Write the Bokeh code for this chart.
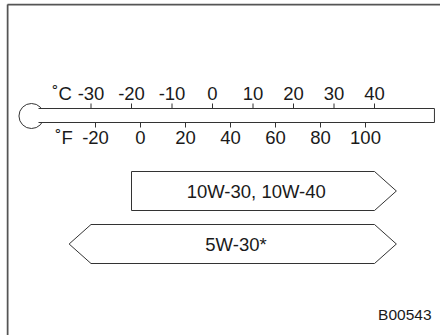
from bokeh.plotting import figure
from bokeh.models import Range1d
from bokeh.core.properties import value
from bokeh.embed import file_html
from bokeh.resources import INLINE

# ---------------- data ----------------
celsius_ticks = [-30, -20, -10, 0, 10, 20, 30, 40]
fahrenheit_ticks = [-20, 0, 20, 40, 60, 80, 100]
oil_grades = ["10W-30, 10W-40", "5W-30*"]
oil_low_c = [-20, -30]
oil_high_c = [40, 40]
oil_open_low = [False, True]
oil_open_high = [True, True]
figure_code = "B00543"
tube_start_c = -42
tube_end_c = 54.8
bulb_c = -44.7

# ---------------- layout (page pixels) ----------------
X0 = 212.0      # page x of 0 degC
K = 4.05        # px per degC
FIG_X, FIG_Y = 6, 3
W, H = 434, 332
FONT = value("Liberation Sans")
LINE = "#333333"
TXT = "#1a1a1a"
FS = "18.5px"


def px2c(px):
    return (px - X0) / K


p = figure(width=W, height=H, output_backend="svg", toolbar_location=None,
           x_range=Range1d(px2c(FIG_X), px2c(FIG_X + W)),
           y_range=Range1d(FIG_Y + H, FIG_Y),
           min_border=0, outline_line_color=None)
p.xaxis.visible = False
p.yaxis.visible = False
p.grid.visible = False
p.background_fill_color = "white"
p.border_fill_color = "white"
p.styles = {"position": "relative", "left": "%dpx" % FIG_X, "top": "%dpx" % FIG_Y}

# frame (left and top edges)
fx = px2c(FIG_X + 1)
p.line([fx, fx], [FIG_Y + H, FIG_Y + 1], line_color="#555555", line_width=2)
p.line([fx, px2c(FIG_X + W)], [FIG_Y + 1, FIG_Y + 1], line_color="#555555", line_width=2)

# thermometer
TUBE_TOP, TUBE_BOT = 108, 122
p.scatter([bulb_c], [(TUBE_TOP + TUBE_BOT) / 2 + 0.5], size=25, marker="circle",
          fill_color="white", line_color=LINE, line_width=1)
p.quad(left=[bulb_c], right=[tube_end_c], top=[TUBE_TOP + 0.5], bottom=[TUBE_BOT - 0.5],
       fill_color="white", line_color=None)
p.line([px2c(38), tube_end_c, tube_end_c, px2c(38)],
       [TUBE_TOP, TUBE_TOP, TUBE_BOT, TUBE_BOT], line_color=LINE, line_width=1)

# Celsius ticks and labels
p.segment(x0=celsius_ticks, x1=celsius_ticks, y0=[TUBE_TOP] * len(celsius_ticks),
          y1=[TUBE_TOP - 5] * len(celsius_ticks), line_color=LINE, line_width=1)
p.text(x=celsius_ticks, y=[93] * len(celsius_ticks), text=[str(v) for v in celsius_ticks],
       text_font=FONT, text_font_size=FS, text_align="center",
       text_baseline="middle", text_color=TXT)

# Fahrenheit ticks and labels
f_pos = [(f - 32) * 5.0 / 9.0 for f in fahrenheit_ticks]
p.segment(x0=f_pos, x1=f_pos, y0=[TUBE_BOT] * len(f_pos),
          y1=[TUBE_BOT + 5] * len(f_pos), line_color=LINE, line_width=1)
p.text(x=f_pos, y=[137] * len(f_pos), text=[str(v) for v in fahrenheit_ticks],
       text_font=FONT, text_font_size=FS, text_align="center",
       text_baseline="middle", text_color=TXT)

# unit labels
p.text(x=[px2c(61.5)], y=[93], text=["\u02daC"], text_font=FONT, text_font_size=FS,
       text_align="center", text_baseline="middle", text_color=TXT)
p.text(x=[px2c(63.5)], y=[137], text=["\u02daF"], text_font=FONT, text_font_size=FS,
       text_align="center", text_baseline="middle", text_color=TXT)

# oil grade boxes
BOX_TOPS = [171, 224]
BOX_H = 39
ARROW_C = 5.4
xs, ys = [], []
for lo, hi, ol, oh, top in zip(oil_low_c, oil_high_c, oil_open_low, oil_open_high, BOX_TOPS):
    bot = top + BOX_H
    mid = (top + bot) / 2
    px, py = [lo, hi], [top, top]
    if oh:
        px += [hi + ARROW_C]
        py += [mid]
    px += [hi, lo]
    py += [bot, bot]
    if ol:
        px += [lo - ARROW_C]
        py += [mid]
    xs.append(px)
    ys.append(py)
p.patches(xs, ys, fill_color="white", line_color=LINE, line_width=1)
p.text(x=[(lo + hi) / 2 + 0.8 for lo, hi in zip(oil_low_c, oil_high_c)],
       y=[t + BOX_H / 2 + 0.5 for t in BOX_TOPS], text=oil_grades,
       text_font=FONT, text_font_size=FS, text_align="center",
       text_baseline="middle", text_color=TXT)

# figure code
p.text(x=[px2c(431)], y=[314], text=[figure_code], text_font=FONT, text_font_size="15.5px",
       text_align="right", text_baseline="middle", text_color=TXT)

open("out.html", "w").write(file_html(p, INLINE))
